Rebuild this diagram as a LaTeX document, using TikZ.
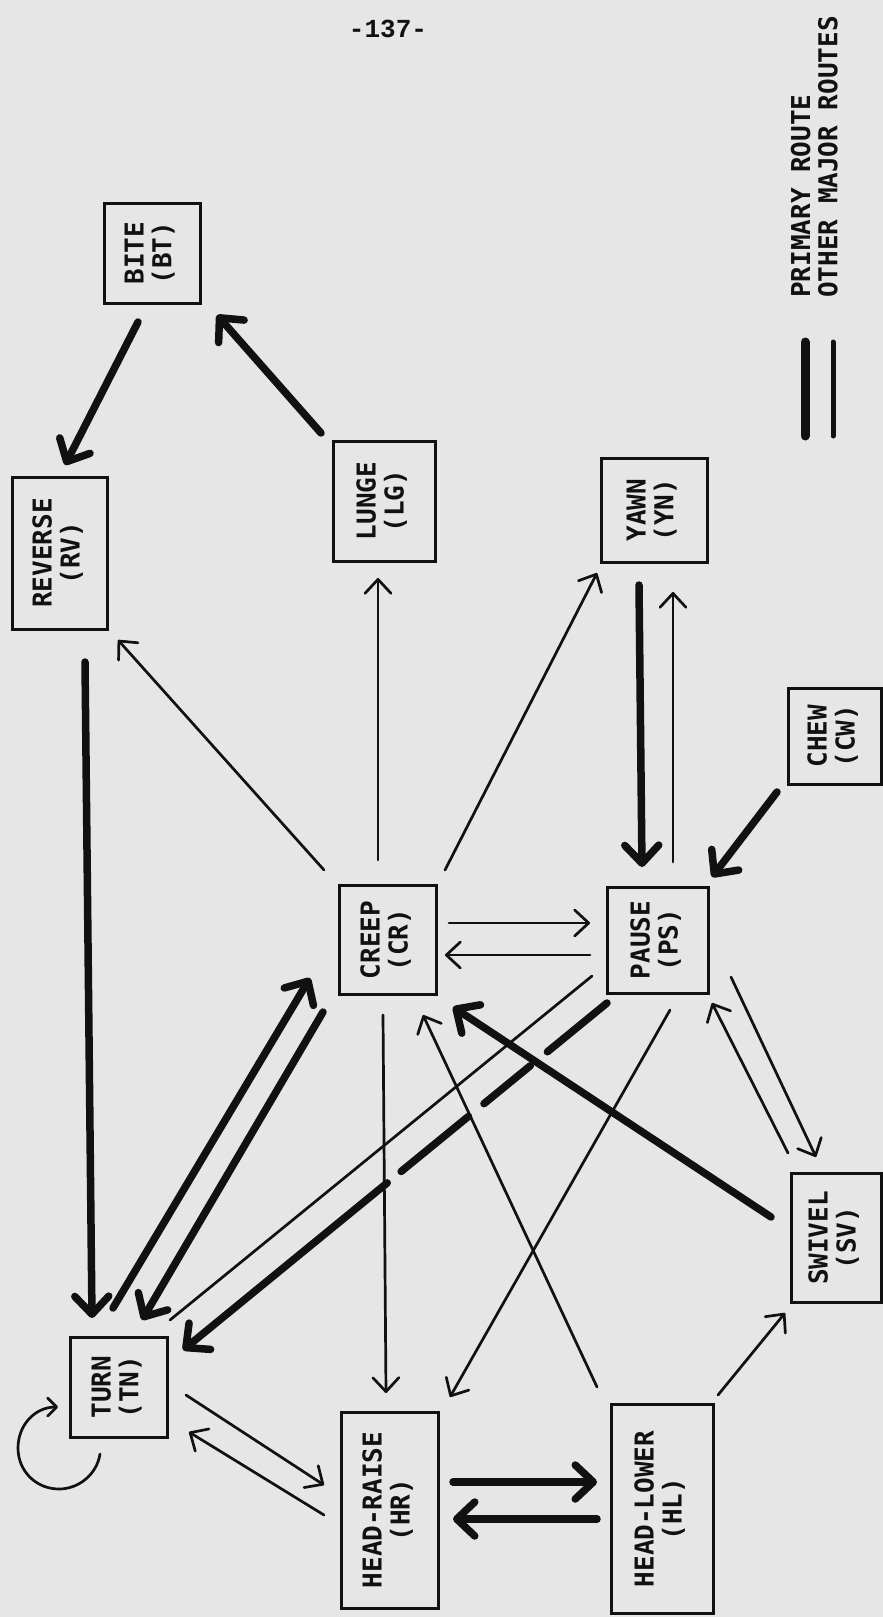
\documentclass[tikz,border=0pt]{standalone}
\usepackage{fontspec}
\usetikzlibrary{arrows.meta}
\newfontfamily\labfont{DejaVu Sans Mono Bold}
\newfontfamily\pagefont{Liberation Mono Bold}
\definecolor{paper}{RGB}{230,230,230}
\definecolor{ink}{RGB}{17,17,17}
\newcommand{\lab}[2]{\rotatebox{90}{\renewcommand{\arraystretch}{1}\begin{tabular}{@{}c@{}}#1\\#2\end{tabular}}}
\tikzset{
  box/.style={draw=ink, line width=3pt, inner sep=0pt, text=ink,
    font=\labfont\fontsize{26}{27}\selectfont},
  thinline/.style={draw=ink, line width=2.7pt, line cap=round},
  thickline/.style={draw=ink, line width=7.5pt, line cap=round},
  thinarrow/.style={thinline, -{Straight Barb[length=14pt,width=26pt,round]}},
  thickarrow/.style={thickline, -{Straight Barb[length=18pt,width=34pt,round]}},
}
\begin{document}
\begin{tikzpicture}[x=1pt,y=-1pt]
\fill[paper] (0,0) rectangle (883,1617);
\useasboundingbox (0,0) rectangle (883,1617);

% page number and legend
\node[text=ink, font=\pagefont\fontsize{26}{27}\selectfont, inner sep=0pt] (pagenum) at (388,29) {-137-};
\node[text=ink, font=\labfont\fontsize{26}{26}\selectfont, inner sep=0pt] (legend) at (818,157)
  {\rotatebox{90}{\renewcommand{\arraystretch}{1}\begin{tabular}{@{}l@{}}PRIMARY ROUTE\\OTHER MAJOR ROUTES\end{tabular}}};
\draw[draw=ink, line width=9pt, line cap=round] (805,342) -- (805,436);
\draw[draw=ink, line width=5pt, line cap=round] (833,342) -- (833,436);

% nodes
\node[box, minimum width=96pt, minimum height=100pt] (BT) at (152,253) {\lab{BITE}{(BT)}};
\node[box, minimum width=95pt, minimum height=152pt] (RV) at (60,553) {\lab{REVERSE}{(RV)}};
\node[box, minimum width=102pt, minimum height=120pt] (LG) at (384,501) {\lab{LUNGE}{(LG)}};
\node[box, minimum width=106pt, minimum height=104pt] (YN) at (654,510) {\lab{YAWN}{(YN)}};
\node[box, minimum width=93pt, minimum height=96pt] (CW) at (835,736) {\lab{CHEW}{(CW)}};
\node[box, minimum width=97pt, minimum height=109pt] (CR) at (388,940) {\lab{CREEP}{(CR)}};
\node[box, minimum width=101pt, minimum height=106pt] (PS) at (658,940) {\lab{PAUSE}{(PS)}};
\node[box, minimum width=90pt, minimum height=129pt] (SV) at (836,1238) {\lab{SWIVEL}{(SV)}};
\node[box, minimum width=97pt, minimum height=100pt] (TN) at (119,1387) {\lab{TURN}{(TN)}};
\node[box, minimum width=97pt, minimum height=196pt] (HR) at (390,1510) {\lab{HEAD-RAISE}{(HR)}};
\node[box, minimum width=102pt, minimum height=209pt] (HL) at (662,1509) {\lab{HEAD-LOWER}{(HL)}};

% primary routes (thick)
\draw[thickarrow] ([shift={(-14,69)}]BT.center) -- ([shift={(5,-88)}]RV.center);
\draw[thickarrow] ([shift={(-63,-68)}]LG.center) -- ([shift={(65,62)}]BT.center);
\draw[thickarrow] ([shift={(25,109)}]RV.center) -- ([shift={(-27,-69)}]TN.center);
\draw[thickarrow] ([shift={(-6,-79)}]TN.center) -- ([shift={(-78,38)}]CR.center);
\draw[thickarrow] ([shift={(-65,72)}]CR.center) -- ([shift={(23,-67)}]TN.center);
\draw[thickarrow, dash pattern=on 77pt off 22pt on 60pt off 20pt on 87pt off 18pt on 600pt off 1pt]
  ([shift={(-51,63)}]PS.center) -- ([shift={(64,-37)}]TN.center);
\draw[thickarrow] ([shift={(-15,75)}]YN.center) -- ([shift={(-16,-73)}]PS.center);
\draw[thickarrow] ([shift={(-58,56)}]CW.center) -- ([shift={(54,-63)}]PS.center);
\draw[thickarrow] ([shift={(-65,-21)}]SV.center) -- ([shift={(65,67)}]CR.center);
\draw[thickarrow] ([shift={(63,-28)}]HR.center) -- ([shift={(-65,-27)}]HL.center);
\draw[thickarrow] ([shift={(-65,10)}]HL.center) -- ([shift={(63,9)}]HR.center);

% other major routes (thin)
\draw[thinarrow] ([shift={(-64,-70)}]CR.center) -- ([shift={(58,87)}]RV.center);
\draw[thinarrow] ([shift={(-10,-80)}]CR.center) -- ([shift={(-6,77)}]LG.center);
\draw[thinarrow] ([shift={(57,-70)}]CR.center) -- ([shift={(-57,63)}]YN.center);
\draw[thinarrow] ([shift={(15,-78)}]PS.center) -- ([shift={(19,82)}]YN.center);
\draw[thinarrow] ([shift={(61,-17)}]CR.center) -- ([shift={(-68,-17)}]PS.center);
\draw[thinarrow] ([shift={(-68,15)}]PS.center) -- ([shift={(57,15)}]CR.center);
\draw[thinline] ([shift={(-66,36)}]PS.center) -- ([shift={(51,-67)}]TN.center);
\draw[thinarrow] ([shift={(-5,75)}]CR.center) -- ([shift={(-4,-117)}]HR.center);
\draw[thinarrow] ([shift={(-65,-122)}]HL.center) -- ([shift={(35,75)}]CR.center);
\draw[thinarrow] ([shift={(12,70)}]PS.center) -- ([shift={(60,-113)}]HR.center);
\draw[thinarrow] ([shift={(73,37)}]PS.center) -- ([shift={(-20,-81)}]SV.center);
\draw[thinarrow] ([shift={(-48,-85)}]SV.center) -- ([shift={(54,63)}]PS.center);
\draw[thinarrow] ([shift={(56,-114)}]HL.center) -- ([shift={(-51,75)}]SV.center);
\draw[thinarrow] ([shift={(67,8)}]TN.center) -- ([shift={(-66,-25)}]HR.center);
\draw[thinarrow] ([shift={(-66,5)}]HR.center) -- ([shift={(70,45)}]TN.center);

% self loop on TURN
\draw[thinline, -{Straight Barb[length=9pt,width=18pt,round]}]
  ([shift={(-19,67)}]TN.center) .. controls (97,1474) and (79,1489) .. (59,1489)
  .. controls (36,1489) and (18,1471) .. (18,1448)
  .. controls (18,1425) and (35,1407) .. ([shift={(-61,20)}]TN.center);
\end{tikzpicture}
\end{document}
